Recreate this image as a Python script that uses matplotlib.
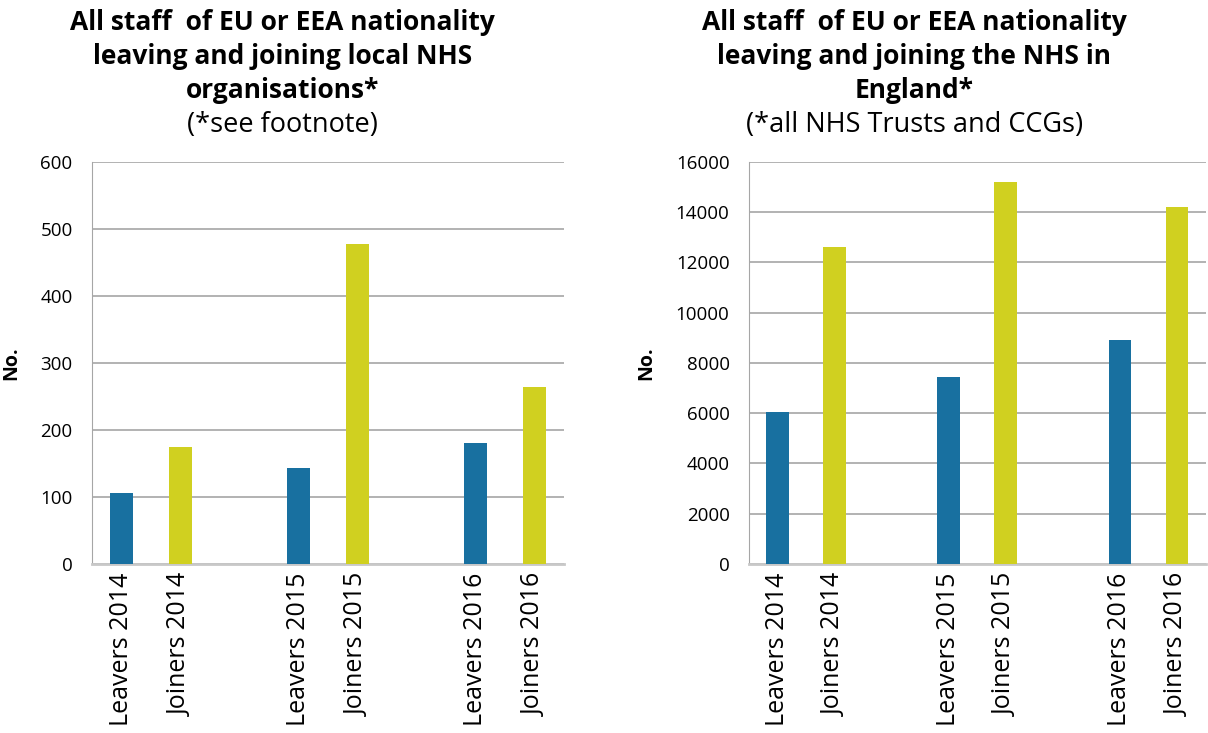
import numpy as np
import matplotlib.pyplot as plt

plt.rcParams['font.family'] = ['Open Sans', 'DejaVu Sans']

categories = ['Leavers 2014', 'Joiners 2014', '', 'Leavers 2015', 'Joiners 2015', '',
              'Leavers 2016', 'Joiners 2016']
local_values = [106, 175, 0, 143, 478, 0, 181, 264]
england_values = [6050, 12620, 0, 7440, 15200, 0, 8920, 14210]
bar_colors = ['#1870a0', '#d0d020', 'none'] * 2 + ['#1870a0', '#d0d020']

fig = plt.figure(figsize=(12.08, 7.33), dpi=100)
ax1 = fig.add_axes([0.0762, 0.2306, 0.3907, 0.5484])
ax2 = fig.add_axes([0.620, 0.2306, 0.378, 0.5484])

x = np.arange(len(categories))

def style(ax, values, ymax, step):
    ax.bar(x, values, width=0.4, color=bar_colors, zorder=3)
    ax.set_xlim(-0.5, len(categories) - 0.5)
    ax.set_ylim(0, ymax)
    ax.set_yticks(np.arange(0, ymax + 1, step))
    ax.set_xticks(x)
    ax.set_xticklabels(categories, rotation=90, fontsize=18)
    ax.tick_params(axis='both', length=0)
    ax.tick_params(axis='y', labelsize=13.5, pad=14)
    ax.tick_params(axis='x', pad=6)
    ax.grid(axis='y', color='#a6a6a6', linewidth=1.2, zorder=0)
    for s in ['top', 'right']:
        ax.spines[s].set_visible(False)
    ax.spines['left'].set_color('#a6a6a6')
    ax.spines['bottom'].set_color('#c8c8c8')
    ax.spines['bottom'].set_linewidth(2)
    ax.set_ylabel('No.', fontsize=14, fontweight='bold', labelpad=14)

style(ax1, local_values, 600, 100)
style(ax2, england_values, 16000, 2000)

# titles
left_title = ['All staff  of EU or EEA nationality', 'leaving and joining local NHS', 'organisations*']
right_title = ['All staff  of EU or EEA nationality', 'leaving and joining the NHS in', 'England*']
for cx, lines, sub in [(0.234, left_title, '(*see footnote)'),
                        (0.757, right_title, '(*all NHS Trusts and CCGs)')]:
    for i, line in enumerate(lines):
        fig.text(cx, 1 - (22 + 34 * i) / 733, line, ha='center', va='center',
                 fontsize=19, fontweight='bold')
    fig.text(cx, 1 - 125 / 733, sub, ha='center', va='center', fontsize=19.5)

plt.savefig('out.png')
